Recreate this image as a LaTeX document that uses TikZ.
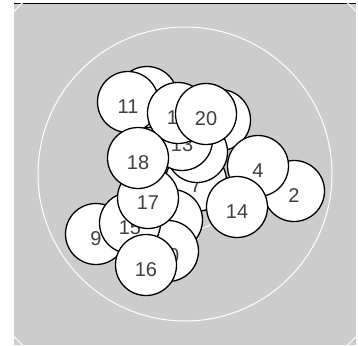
\documentclass[tikz,border=0pt]{standalone}
\usepackage{fontspec}
\setmainfont{Liberation Sans}

\begin{document}
\begin{tikzpicture}[x=1pt,y=-1pt,font=\fontsize{20}{20}\selectfont,
  ball/.style={circle,draw=black,line width=1.3pt,fill=white,minimum size=61pt,
    inner sep=0pt,text=black!75,text height=22pt,text depth=0pt},
  grid/.style={white,line width=1pt}]
  \useasboundingbox (0,0) rectangle (358,345);
  % panel
  \fill[black!20] (14,3) rectangle (356,345);
  \draw[line width=0.8pt] (14,3) -- (356,3);
  \begin{scope}
    \clip (14,3) rectangle (356,345);
    \coordinate (o) at (185,174);
    \draw[grid] (o) circle[radius=57];
    \draw[grid] (o) circle[radius=147];
    \draw[grid] (o) circle[radius=236];
  \end{scope}
  % balls, back to front
  \node[ball] (n3) at (147,97) {};
  \node[ball] (n5) at (220,120) {};
  \node[ball] (n2) at (294,191) {2};
  \node[ball] (n4) at (258,166) {4};
  \node[ball] (n7) at (196,181) {7};
  \node[ball] (n6) at (197,152) {};
  \node[ball] (n13) at (182,140) {13};
  \node[ball] (n8) at (172,220) {};
  \node[ball] (n10) at (168,251) {10};
  \node[ball] (n9) at (96,234) {9};
  \node[ball] (n15) at (130,223) {15};
  \node[ball] (n17) at (148,198) {17};
  \node[ball] (n11) at (128,102) {11};
  \node[ball] (n12) at (178,113) {12};
  \node[ball] (n20) at (206,114) {20};
  \node[ball] (n18) at (138,158) {18};
  \node[ball] (n14) at (237,207) {14};
  \node[ball] (n16) at (146,265) {16};
\end{tikzpicture}
\end{document}
